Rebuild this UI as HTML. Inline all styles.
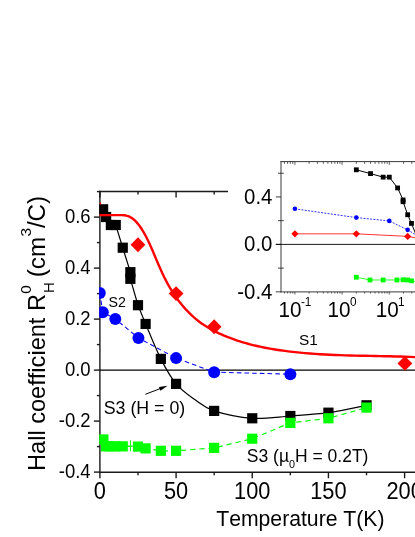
<!DOCTYPE html>
<html><head><meta charset="utf-8"><title>chart</title>
<style>html,body{margin:0;padding:0;background:#fff;width:415px;height:537px;overflow:hidden}text,tspan{font-kerning:none;font-feature-settings:"kern" 0;font-variant-ligatures:none}</style></head>
<body>
<svg width="415" height="537" viewBox="0 0 415 537" style="display:block;position:absolute;left:0;top:0;font-kerning:none" font-family="'Liberation Sans', sans-serif">
<rect width="415" height="537" fill="#fff"/>
<g opacity="0.999">
<g stroke="#1a1a1a" stroke-width="1.4" fill="none">
<path d="M99.90,190.85 V472.95"/>
<path d="M99.20,191.55 H420"/>
<path d="M99.20,472.25 H420"/>
<path d="M99.90,370.10 H420" stroke="#000" stroke-width="1.2"/>
<path d="M99.90,472.25 v6.0"/>
<path d="M99.90,191.55 v6.0"/>
<path d="M137.99,472.25 v3.0"/>
<path d="M137.99,191.55 v3.0"/>
<path d="M176.08,472.25 v6.0"/>
<path d="M176.08,191.55 v6.0"/>
<path d="M214.16,472.25 v3.0"/>
<path d="M214.16,191.55 v3.0"/>
<path d="M252.25,472.25 v6.0"/>
<path d="M252.25,191.55 v6.0"/>
<path d="M290.34,472.25 v3.0"/>
<path d="M290.34,191.55 v3.0"/>
<path d="M328.43,472.25 v6.0"/>
<path d="M328.43,191.55 v6.0"/>
<path d="M366.51,472.25 v3.0"/>
<path d="M366.51,191.55 v3.0"/>
<path d="M404.60,472.25 v6.0"/>
<path d="M404.60,191.55 v6.0"/>
<path d="M99.90,472.10 h-6.0"/>
<path d="M99.90,446.60 h-3.0"/>
<path d="M99.90,421.10 h-6.0"/>
<path d="M99.90,395.60 h-3.0"/>
<path d="M99.90,370.10 h-6.0"/>
<path d="M99.90,344.60 h-3.0"/>
<path d="M99.90,319.10 h-6.0"/>
<path d="M99.90,293.60 h-3.0"/>
<path d="M99.90,268.10 h-6.0"/>
<path d="M99.90,242.60 h-3.0"/>
<path d="M99.90,217.10 h-6.0"/>
<path d="M99.90,191.60 h-3.0"/>
</g>
<text transform="translate(99.90,498.80) scale(1,1.090)" font-size="21.80" text-anchor="middle" fill="#000">0</text>
<text transform="translate(176.08,498.80) scale(1,1.090)" font-size="21.80" text-anchor="middle" fill="#000">50</text>
<text transform="translate(252.25,498.80) scale(1,1.090)" font-size="21.80" text-anchor="middle" fill="#000">100</text>
<text transform="translate(328.43,498.80) scale(1,1.090)" font-size="21.80" text-anchor="middle" fill="#000">150</text>
<text transform="translate(404.60,498.80) scale(1,1.090)" font-size="21.80" text-anchor="middle" fill="#000">200</text>
<text transform="translate(90.60,477.60) scale(1,1.050)" font-size="18.50" text-anchor="end" fill="#000">-0.4</text>
<text transform="translate(90.60,426.60) scale(1,1.050)" font-size="18.50" text-anchor="end" fill="#000">-0.2</text>
<text transform="translate(90.60,375.60) scale(1,1.050)" font-size="18.50" text-anchor="end" fill="#000">0.0</text>
<text transform="translate(90.60,324.60) scale(1,1.050)" font-size="18.50" text-anchor="end" fill="#000">0.2</text>
<text transform="translate(90.60,273.60) scale(1,1.050)" font-size="18.50" text-anchor="end" fill="#000">0.4</text>
<text transform="translate(90.60,222.60) scale(1,1.050)" font-size="18.50" text-anchor="end" fill="#000">0.6</text>
<text x="216.2" y="525.7" font-size="21.2" fill="#000">Temperature T(K)</text>
<g transform="translate(45.0,471.0) rotate(-90)" fill="#000"><text x="0" y="0" font-size="23.6">Hall coefficient R</text><text x="177.9" y="9.2" font-size="15">H</text><text x="177.2" y="-13.7" font-size="15.5">0</text><text x="193.8" y="0" font-size="24.2">(cm</text><text x="234.6" y="-14" font-size="15.5">3</text><text x="242.9" y="0" font-size="24.2">/C)</text></g>
<clipPath id="cp"><rect x="99.2" y="190.9" width="330" height="281.8"/></clipPath><g clip-path="url(#cp)">
<path d="M99.79,293.09 L102.79,312.24 L115.29,318.90 L138.44,337.97 L176.08,358.12 L214.16,372.14 L290.34,374.18" stroke="#0000ff" stroke-width="1.05" fill="none" stroke-dasharray="4.6,3.1"/>
<circle cx="99.79" cy="293.09" r="6.0" fill="#0000ff"/>
<circle cx="102.79" cy="312.24" r="6.0" fill="#0000ff"/>
<circle cx="115.29" cy="318.90" r="6.0" fill="#0000ff"/>
<circle cx="138.44" cy="337.97" r="6.0" fill="#0000ff"/>
<circle cx="176.08" cy="358.12" r="6.0" fill="#0000ff"/>
<circle cx="214.16" cy="372.14" r="6.0" fill="#0000ff"/>
<circle cx="290.34" cy="374.18" r="6.0" fill="#0000ff"/>
<path d="M103.10,209.30 L106.10,217.00 L110.87,225.01 L115.74,225.01 L122.75,247.70 L130.37,272.18 L130.37,278.81 L137.99,305.20 L137.99,305.20 C139.26,308.33 141.80,315.00 145.61,323.95 C149.41,332.89 155.76,348.89 160.84,358.88 C165.92,368.87 170.36,377.05 176.08,383.87 C181.79,390.69 188.77,395.30 195.12,399.81 C201.47,404.31 204.64,407.82 214.16,410.90 C223.68,413.98 239.55,417.45 252.25,418.30 C264.95,419.14 277.64,416.94 290.34,416.00 C303.03,415.06 315.73,414.47 328.43,412.69 C341.12,410.90 360.16,406.52 366.51,405.29" stroke="#000" stroke-width="1.2" fill="none"/>
<rect x="98.00" y="204.20" width="10.20" height="10.20" fill="#000"/>
<rect x="101.00" y="211.90" width="10.20" height="10.20" fill="#000"/>
<rect x="105.77" y="219.91" width="10.20" height="10.20" fill="#000"/>
<rect x="110.64" y="219.91" width="10.20" height="10.20" fill="#000"/>
<rect x="117.65" y="242.60" width="10.20" height="10.20" fill="#000"/>
<rect x="125.27" y="267.08" width="10.20" height="10.20" fill="#000"/>
<rect x="125.27" y="273.71" width="10.20" height="10.20" fill="#000"/>
<rect x="132.89" y="300.10" width="10.20" height="10.20" fill="#000"/>
<rect x="140.51" y="318.85" width="10.20" height="10.20" fill="#000"/>
<rect x="155.74" y="353.78" width="10.20" height="10.20" fill="#000"/>
<rect x="170.98" y="378.77" width="10.20" height="10.20" fill="#000"/>
<rect x="209.06" y="405.80" width="10.20" height="10.20" fill="#000"/>
<rect x="247.15" y="413.19" width="10.20" height="10.20" fill="#000"/>
<rect x="285.24" y="410.90" width="10.20" height="10.20" fill="#000"/>
<rect x="323.33" y="407.58" width="10.20" height="10.20" fill="#000"/>
<rect x="361.41" y="400.19" width="10.20" height="10.20" fill="#000"/>
<path d="M103.40,439.46 L105.99,446.35 L110.56,446.35 L115.59,446.35 L122.75,446.35 L137.99,446.60 L145.61,448.38 L160.84,450.81 L176.08,450.81 L214.16,447.88 L252.25,438.70 L290.34,422.88 L328.43,418.30 L366.51,407.59" stroke="#00ff00" stroke-width="1.2" fill="none" stroke-dasharray="5.2,4"/>
<path d="M127,446.1 H134 M130.5,440.3 V451.2" stroke="#00ff00" stroke-width="1" fill="none"/>
<rect x="98.30" y="434.36" width="10.20" height="10.20" fill="#00ff00"/>
<rect x="100.89" y="441.25" width="10.20" height="10.20" fill="#00ff00"/>
<rect x="105.46" y="441.25" width="10.20" height="10.20" fill="#00ff00"/>
<rect x="110.49" y="441.25" width="10.20" height="10.20" fill="#00ff00"/>
<rect x="117.65" y="441.25" width="10.20" height="10.20" fill="#00ff00"/>
<rect x="132.89" y="441.50" width="10.20" height="10.20" fill="#00ff00"/>
<rect x="140.51" y="443.28" width="10.20" height="10.20" fill="#00ff00"/>
<rect x="155.74" y="445.71" width="10.20" height="10.20" fill="#00ff00"/>
<rect x="170.98" y="445.71" width="10.20" height="10.20" fill="#00ff00"/>
<rect x="209.06" y="442.77" width="10.20" height="10.20" fill="#00ff00"/>
<rect x="247.15" y="433.60" width="10.20" height="10.20" fill="#00ff00"/>
<rect x="285.24" y="417.78" width="10.20" height="10.20" fill="#00ff00"/>
<rect x="323.33" y="413.19" width="10.20" height="10.20" fill="#00ff00"/>
<rect x="361.41" y="402.49" width="10.20" height="10.20" fill="#00ff00"/>
<path d="M99.50,215.15 L118.00,215.15 L120.00,215.11 L122.00,215.12 L124.00,215.25 L126.00,215.55 L128.00,216.10 L130.00,216.94 L132.00,218.13 L134.00,219.69 L136.00,221.61 L138.00,223.89 L140.00,226.53 L142.00,229.52 L144.00,232.85 L146.00,236.52 L148.00,240.52 L150.00,244.82 L152.00,249.34 L154.00,254.00 L156.00,258.72 L158.00,263.42 L160.00,268.04 L162.00,272.48 L164.00,276.69 L166.00,280.64 L168.00,284.36 L170.00,287.86 L172.00,291.15 L174.00,294.25 L176.00,297.17 L178.00,299.93 L180.00,302.54 L182.00,305.01 L184.00,307.36 L186.00,309.59 L188.00,311.70 L190.00,313.71 L192.00,315.61 L194.00,317.41 L196.00,319.11 L198.00,320.73 L200.00,322.25 L202.00,323.70 L204.00,325.07 L206.00,326.36 L208.00,327.59 L210.00,328.76 L212.00,329.87 L214.00,330.92 L216.00,331.93 L218.00,332.89 L220.00,333.81 L222.00,334.70 L224.00,335.56 L226.00,336.38 L228.00,337.18 L230.00,337.96 L232.00,338.70 L234.00,339.42 L236.00,340.11 L238.00,340.78 L240.00,341.43 L242.00,342.05 L244.00,342.65 L246.00,343.22 L248.00,343.78 L250.00,344.31 L252.00,344.82 L254.00,345.31 L256.00,345.79 L258.00,346.24 L260.00,346.68 L265.00,347.71 L270.00,348.63 L275.00,349.47 L280.00,350.24 L285.00,350.93 L290.00,351.57 L295.00,352.14 L300.00,352.66 L305.00,353.12 L310.00,353.53 L315.00,353.90 L320.00,354.22 L325.00,354.51 L330.00,354.76 L335.00,354.98 L340.00,355.17 L345.00,355.33 L350.00,355.48 L355.00,355.61 L360.00,355.72 L365.00,355.82 L370.00,355.92 L375.00,356.02 L380.00,356.11 L385.00,356.21 L390.00,356.32 L395.00,356.43 L400.00,356.57 L405.00,356.72 L410.00,356.89 L415.00,357.09 L420.00,357.32 L425.00,357.58" stroke="#ff0000" stroke-width="2.4" fill="none" stroke-linejoin="round"/>
<path d="M100.4,202.4 L100.4,204.4" stroke="#ff0000" stroke-width="1.5"/>
<path d="M130.59,244.77 L137.99,237.37 L145.39,244.77 L137.99,252.17Z" fill="#ff0000"/>
<path d="M168.68,293.60 L176.08,286.20 L183.48,293.60 L176.08,301.00Z" fill="#ff0000"/>
<path d="M206.76,326.75 L214.16,319.35 L221.56,326.75 L214.16,334.15Z" fill="#ff0000"/>
<path d="M397.50,363.39 L404.90,355.99 L412.30,363.39 L404.90,370.79Z" fill="#ff0000"/>
</g>
<text x="108.6" y="306.8" font-size="14.2" fill="#000">S2</text>
<text x="298.9" y="344.6" font-size="15.4" fill="#000">S1</text>
<text x="103.7" y="414.1" font-size="17.8" fill="#000">S3 (H = 0)</text>
<text x="246.8" y="461.6" font-size="17.5" fill="#000">S3 (µ<tspan font-size="10.8" dy="6.3">0</tspan><tspan dy="-6.3">H = 0.2T)</tspan></text>
<path d="M145.3,394.3 L161,388.3" stroke="#000" stroke-width="1"/>
<path d="M167.6,385.7 L158.95,386.9 L160.4,390.7Z" fill="#000"/>
<rect x="228" y="150" width="190" height="178" fill="#fff"/>
<g stroke="#3a3a3a" stroke-width="1" fill="none">
<path d="M281.00,161.10 V292.40"/>
<path d="M280.50,161.60 H420"/>
<path d="M280.50,291.90 H420"/>
</g>
<g stroke="#222" stroke-width="0.85" fill="none">
<path d="M275.80,291.84 H281.00"/>
<path d="M278.00,268.12 H283.80"/>
<path d="M275.80,244.40 H281.00"/>
<path d="M278.00,220.68 H283.80"/>
<path d="M275.80,196.96 H281.00"/>
<path d="M278.00,173.24 H283.80"/>
</g>
<path d="M275.80,244.40 H420" stroke="#000" stroke-width="0.9"/>
<g stroke="#333" stroke-width="0.8" fill="none">
<path d="M284.43,161.60 v2.2"/>
<path d="M284.43,291.90 v1.6"/>
<path d="M287.59,161.60 v2.2"/>
<path d="M287.59,291.90 v1.6"/>
<path d="M290.33,161.60 v2.2"/>
<path d="M290.33,291.90 v1.6"/>
<path d="M292.74,161.60 v2.2"/>
<path d="M292.74,291.90 v1.6"/>
<path d="M294.90,161.60 v3.2"/>
<path d="M294.90,291.90 v2.6"/>
<path d="M309.11,161.60 v2.2"/>
<path d="M309.11,291.90 v1.6"/>
<path d="M317.42,161.60 v2.2"/>
<path d="M317.42,291.90 v1.6"/>
<path d="M323.32,161.60 v2.2"/>
<path d="M323.32,291.90 v1.6"/>
<path d="M327.89,161.60 v2.2"/>
<path d="M327.89,291.90 v1.6"/>
<path d="M331.63,161.60 v2.2"/>
<path d="M331.63,291.90 v1.6"/>
<path d="M334.79,161.60 v2.2"/>
<path d="M334.79,291.90 v1.6"/>
<path d="M337.53,161.60 v2.2"/>
<path d="M337.53,291.90 v1.6"/>
<path d="M339.94,161.60 v2.2"/>
<path d="M339.94,291.90 v1.6"/>
<path d="M342.10,161.60 v3.2"/>
<path d="M342.10,291.90 v2.6"/>
<path d="M356.31,161.60 v2.2"/>
<path d="M356.31,291.90 v1.6"/>
<path d="M364.62,161.60 v2.2"/>
<path d="M364.62,291.90 v1.6"/>
<path d="M370.52,161.60 v2.2"/>
<path d="M370.52,291.90 v1.6"/>
<path d="M375.09,161.60 v2.2"/>
<path d="M375.09,291.90 v1.6"/>
<path d="M378.83,161.60 v2.2"/>
<path d="M378.83,291.90 v1.6"/>
<path d="M381.99,161.60 v2.2"/>
<path d="M381.99,291.90 v1.6"/>
<path d="M384.73,161.60 v2.2"/>
<path d="M384.73,291.90 v1.6"/>
<path d="M387.14,161.60 v2.2"/>
<path d="M387.14,291.90 v1.6"/>
<path d="M389.30,161.60 v3.2"/>
<path d="M389.30,291.90 v2.6"/>
<path d="M403.51,161.60 v2.2"/>
<path d="M403.51,291.90 v1.6"/>
<path d="M411.82,161.60 v2.2"/>
<path d="M411.82,291.90 v1.6"/>
</g>
<text transform="translate(272.40,203.96) scale(1,1.070)" font-size="20.40" text-anchor="end" fill="#000">0.4</text>
<text transform="translate(272.40,251.40) scale(1,1.070)" font-size="20.40" text-anchor="end" fill="#000">0.0</text>
<text transform="translate(272.40,298.84) scale(1,1.070)" font-size="20.40" text-anchor="end" fill="#000">-0.4</text>
<text transform="translate(278.50,317.20) scale(1,1.100)" font-size="20.70" text-anchor="start" fill="#000">10<tspan font-size="11.8" dy="-10.6" dx="-0.6">-1</tspan></text>
<text transform="translate(327.50,317.20) scale(1,1.100)" font-size="20.70" text-anchor="start" fill="#000">10<tspan font-size="11.8" dy="-10.6" dx="-0.6">0</tspan></text>
<text transform="translate(375.70,317.20) scale(1,1.100)" font-size="20.70" text-anchor="start" fill="#000">10<tspan font-size="11.8" dy="-10.6" dx="-0.6">1</tspan></text>
<path d="M356.31,169.80 L370.52,173.60 L383.13,177.15 L389.30,177.15 L397.61,187.95 L403.09,199.93 L403.09,201.70 L407.67,214.75 L411.48,223.41 L417.72,238.83" stroke="#000" stroke-width="1" fill="none"/>
<rect x="353.91" y="167.40" width="4.80" height="4.80" fill="#000"/>
<rect x="368.12" y="171.20" width="4.80" height="4.80" fill="#000"/>
<rect x="380.73" y="174.75" width="4.80" height="4.80" fill="#000"/>
<rect x="386.90" y="174.75" width="4.80" height="4.80" fill="#000"/>
<rect x="395.21" y="185.55" width="4.80" height="4.80" fill="#000"/>
<rect x="400.69" y="197.53" width="4.80" height="4.80" fill="#000"/>
<rect x="400.69" y="199.30" width="4.80" height="4.80" fill="#000"/>
<rect x="405.27" y="212.35" width="4.80" height="4.80" fill="#000"/>
<rect x="409.08" y="221.01" width="4.80" height="4.80" fill="#000"/>
<rect x="415.32" y="236.43" width="4.80" height="4.80" fill="#000"/>
<path d="M294.90,208.82 L356.31,217.60 L389.30,220.92 L407.67,229.87 L422.29,238.83" stroke="#0000ff" stroke-width="0.8" fill="none" stroke-dasharray="2,1.3"/>
<circle cx="294.90" cy="208.82" r="2.3" fill="#0000ff"/>
<circle cx="356.31" cy="217.60" r="2.3" fill="#0000ff"/>
<circle cx="389.30" cy="220.92" r="2.3" fill="#0000ff"/>
<circle cx="407.67" cy="229.87" r="2.3" fill="#0000ff"/>
<circle cx="422.29" cy="238.83" r="2.3" fill="#0000ff"/>
<path d="M294.90,233.84 L356.31,233.84 L407.67,236.39 L422.29,239.06" stroke="#ff0000" stroke-width="0.8" fill="none"/>
<path d="M291.30,233.84 L294.90,230.24 L298.50,233.84 L294.90,237.44Z" fill="#ff0000"/>
<path d="M352.71,233.84 L356.31,230.24 L359.91,233.84 L356.31,237.44Z" fill="#ff0000"/>
<path d="M404.07,236.39 L407.67,232.79 L411.27,236.39 L407.67,239.99Z" fill="#ff0000"/>
<path d="M356.31,277.25 L370.00,279.98 L383.13,279.98 L396.92,279.98 L403.09,279.74 L407.58,279.98 L411.48,280.81 L417.72,281.88" stroke="#00ff00" stroke-width="0.8" fill="none"/>
<rect x="353.91" y="274.85" width="4.80" height="4.80" fill="#00ff00"/>
<rect x="367.60" y="277.58" width="4.80" height="4.80" fill="#00ff00"/>
<rect x="380.73" y="277.58" width="4.80" height="4.80" fill="#00ff00"/>
<rect x="394.52" y="277.58" width="4.80" height="4.80" fill="#00ff00"/>
<rect x="400.69" y="277.34" width="4.80" height="4.80" fill="#00ff00"/>
<rect x="405.18" y="277.58" width="4.80" height="4.80" fill="#00ff00"/>
<rect x="409.08" y="278.41" width="4.80" height="4.80" fill="#00ff00"/>
<rect x="415.32" y="279.48" width="4.80" height="4.80" fill="#00ff00"/>
</g>
</svg>
</body></html>
